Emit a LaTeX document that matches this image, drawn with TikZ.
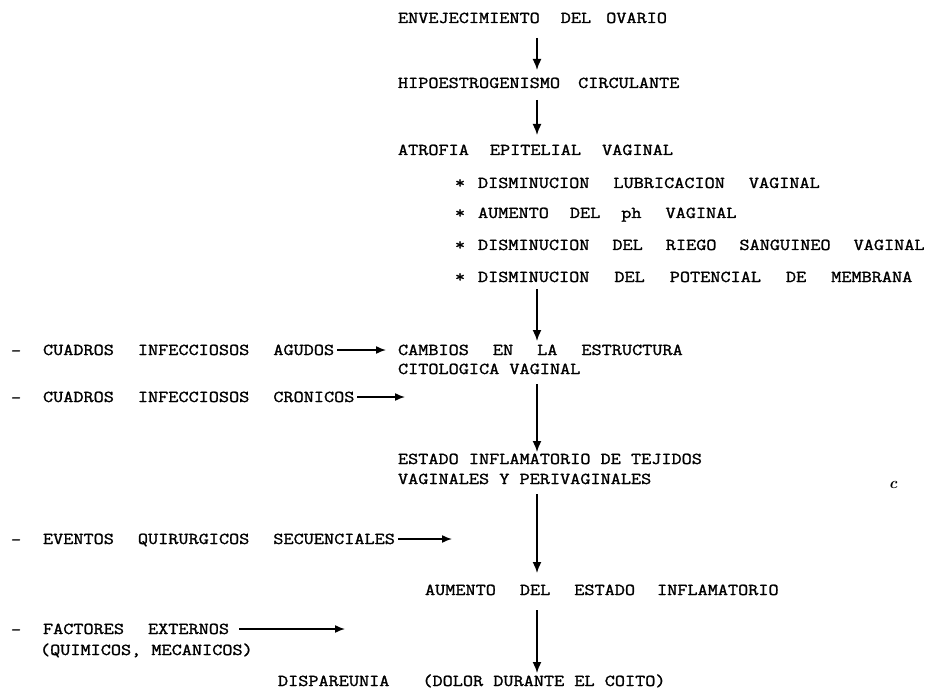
\documentclass[tikz,border=0pt]{standalone}
\usepackage{fontspec}
\usetikzlibrary{arrows.meta,calc}
\newfontfamily\tw{Latin Modern Mono}[FakeStretch=1.185,FakeBold=1.5]
\newcommand{\G}[1]{\hspace{#1pt}}
\begin{document}
\begin{tikzpicture}[x=1pt,y=-1pt,
  txt/.style={anchor=base west,inner sep=0pt,outer sep=0pt,font=\tw\fontsize{16.6}{19}\selectfont},
  arr/.style={line width=1.6pt,-{Latex[length=11pt,width=9pt]}},
  harr/.style={line width=1.5pt,-{Latex[length=10pt,width=8pt]}}]
\useasboundingbox (0,0) rectangle (930,690);
\coordinate (ax) at (537,0);
% main column
\node[txt] (e1) at (398,23) {ENVEJECIMIENTO\G{21}DEL\G{15}OVARIO};
\node[txt] (e2) at (398,88) {HIPOESTROGENISMO\G{18}CIRCULANTE};
\node[txt] (e3) at (398,155) {ATROFIA\G{21}EPITELIAL\G{21}VAGINAL};
\node[txt] (s1a) at (455,188) {*};
\node[txt] (b1) at (478,188) {DISMINUCION\G{24}LUBRICACION\G{24}VAGINAL};
\node[txt] (s2a) at (455,218) {*};
\node[txt] (b2) at (478,218) {AUMENTO\G{21}DEL\G{21}ph\G{24}VAGINAL};
\node[txt] (s3a) at (455,250) {*};
\node[txt] (b3) at (478,250) {DISMINUCION\G{23}DEL\G{23}RIEGO\G{23}SANGUINEO\G{23}VAGINAL};
\node[txt] (s4a) at (455,282) {*};
\node[txt] (b4) at (478,282) {DISMINUCION\G{25}DEL\G{25}POTENCIAL\G{25}DE\G{25}MEMBRANA};
\node[txt] (c1) at (398,355) {CAMBIOS\G{24}EN\G{24}LA\G{24}ESTRUCTURA};
\node[txt] (c2) at (398,374) {CITOLOGICA VAGINAL};
\node[txt] (t1) at (398,464) {ESTADO INFLAMATORIO DE TEJIDOS};
\node[txt] (t2) at (398,484) {VAGINALES Y PERIVAGINALES};
\node[txt] (u1) at (425,595) {AUMENTO\G{24}DEL\G{24}ESTADO\G{22}INFLAMATORIO};
\node[txt] (d1) at (278,686) {DISPAREUNIA\G{33}(DOLOR DURANTE EL COITO)};
% left column
\node[txt] (m1) at (11,356) {–};
\node[txt] (l1) at (43,355) {CUADROS\G{24}INFECCIOSOS\G{24}AGUDOS};
\node[txt] (m2) at (11,403) {–};
\node[txt] (l2) at (43,402) {CUADROS\G{24}INFECCIOSOS\G{24}CRONICOS};
\node[txt] (m3) at (11,545) {–};
\node[txt] (l3) at (43,544) {EVENTOS\G{24}QUIRURGICOS\G{24}SECUENCIALES};
\node[txt] (m4) at (11,635) {–};
\node[txt] (l4) at (43,634) {FACTORES\G{24}EXTERNOS};
\node[txt] (l4b) at (40,655) {(QUIMICOS, MECANICOS)};
\node[anchor=center,inner sep=0pt,font=\itshape\bfseries\fontsize{16}{16}\selectfont] (c) at (893,485) {c};
% vertical arrows
\draw[arr] ($(ax |- e1.base)+(0,15)$) -- ($(ax |- e2.base)+(0,-18)$);
\draw[arr] ($(ax |- e2.base)+(0,12)$) -- ($(ax |- e3.base)+(0,-20)$);
\draw[arr] ($(ax |- b4.base)+(0,7)$) -- ($(ax |- c1.base)+(0,-14)$);
\draw[arr] ($(ax |- c2.base)+(0,10)$) -- ($(ax |- t1.base)+(0,-12)$);
\draw[arr] ($(ax |- t2.base)+(0,10)$) -- ($(ax |- u1.base)+(0,-22)$);
\draw[arr] ($(ax |- u1.base)+(0,15)$) -- ($(ax |- d1.base)+(0,-13)$);
% horizontal arrows
\coordinate (h2) at (405,397);
\coordinate (h3) at (452,539);
\coordinate (h4) at (345,629);
\draw[harr] ($(l1.base east)+(3,-5)$) -- ($(c1.base west)+(-12,-5)$);
\draw[harr] ($(l2.base east)+(3,-5)$) -- (h2);
\draw[harr] ($(l3.base east)+(3,-5)$) -- (h3);
\draw[harr] ($(l4.base east)+(10,-5)$) -- (h4);
\end{tikzpicture}
\end{document}
